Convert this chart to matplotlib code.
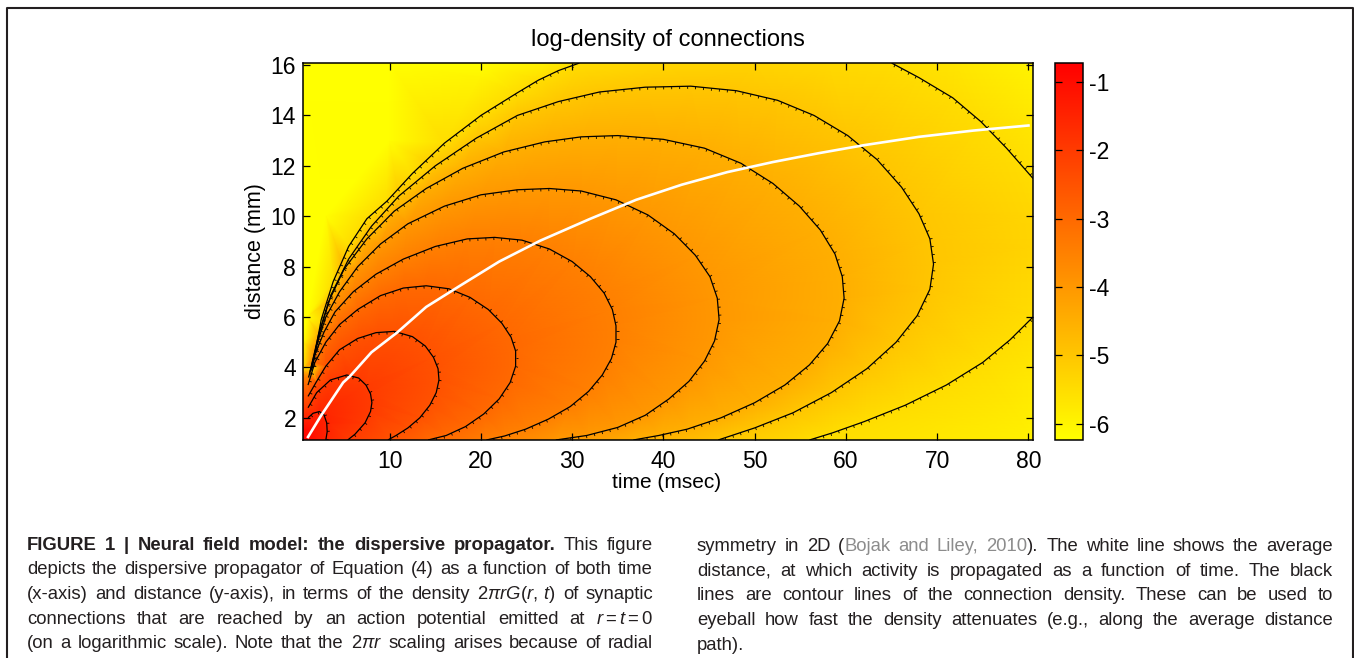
import numpy as np
import matplotlib
matplotlib.use("Agg")
import matplotlib.pyplot as plt
import matplotlib.tri as mtri
from matplotlib.lines import Line2D
from matplotlib.collections import LineCollection

plt.rcParams['axes.unicode_minus'] = False
plt.rcParams['font.family'] = ['Liberation Sans', 'DejaVu Sans']
plt.rcParams['mathtext.fontset'] = 'custom'
plt.rcParams['mathtext.rm'] = 'Liberation Sans'
plt.rcParams['mathtext.it'] = 'Liberation Sans:italic'

W, H, DPI = 1354, 658, 100

# ---------------------------------------------------------------- data
T_MIN, T_MAX = 0.5, 80.5          # time (msec)
R_MIN, R_MAX = 1.12, 16.08        # distance (mm)
V_MIN, V_MAX = -6.24, -0.72       # log-density range

contour_levels = [-1.5, -2.0, -2.5, -3.0, -3.5, -4.0, -4.5, -5.0, -5.5]

c1_t = [1.05, 1.6, 2.3, 2.8, 3.1, 3.15, 3.0]
c1_r = [2.0, 2.18, 2.25, 2.12, 1.8, 1.45, 1.12]

c2_t = [1.05, 2.0, 3.5, 5.3, 6.6, 7.4, 7.9, 8.05, 7.9, 7.3, 6.2, 5.4]
c2_r = [2.4, 3.0, 3.5, 3.7, 3.58, 3.3, 2.95, 2.6, 2.25, 1.8, 1.35, 1.12]

c3_t = [1.05, 2.0, 3.0, 4.5, 6.5, 8.5, 10.5, 12.5, 13.9, 14.8, 15.3, 15.4, 15.1, 14.4, 13.3, 12.0, 10.7, 9.8]
c3_r = [2.85, 3.45, 4.05, 4.7, 5.15, 5.38, 5.43, 5.22, 4.85, 4.4, 3.95, 3.5, 3.0, 2.5, 2.0, 1.6, 1.3, 1.12]

c4_t = [1.05, 1.8, 3.0, 4.5, 6.5, 9.0, 11.5, 14.0, 16.5, 18.8, 20.8, 22.3, 23.3, 23.8, 23.8, 23.2, 22.0, 20.3, 18.3, 16.2, 14.2]
c4_r = [3.3, 4.2, 5.0, 5.7, 6.3, 6.85, 7.15, 7.24, 7.12, 6.78, 6.3, 5.75, 5.2, 4.65, 4.05, 3.4, 2.75, 2.15, 1.65, 1.3, 1.12]

c5_t = [1.1, 1.8, 2.8, 4.0, 6.0, 8.5, 11.5, 15.0, 18.5, 21.5, 24.5, 27.5, 30.0, 32.0, 33.5, 34.4, 34.8, 34.8, 34.3, 33.3, 31.8, 29.8, 27.4, 24.9, 22.6, 20.6]
c5_r = [3.6, 4.5, 5.4, 6.2, 7.0, 7.7, 8.3, 8.8, 9.1, 9.16, 9.05, 8.7, 8.2, 7.6, 6.95, 6.3, 5.65, 5.0, 4.35, 3.7, 3.05, 2.45, 1.95, 1.55, 1.28, 1.12]

c6_t = [1.2, 2.0, 3.0, 4.5, 6.5, 9.0, 12.0, 16.0, 20.0, 24.0, 27.5, 31.0, 34.8, 38.3, 41.2, 43.5, 45.1, 45.9, 46.1, 45.6, 44.5, 42.8, 40.6, 38.0, 35.0, 31.6, 28.2]
c6_r = [3.75, 4.9, 6.0, 7.0, 8.0, 8.9, 9.7, 10.4, 10.85, 11.05, 11.1, 11.0, 10.65, 10.05, 9.3, 8.45, 7.6, 6.75, 5.9, 5.05, 4.25, 3.45, 2.75, 2.1, 1.62, 1.3, 1.12]

c7_t = [1.3, 2.2, 3.3, 5.0, 7.5, 10.5, 14.0, 18.0, 22.5, 27.0, 31.0, 35.0, 40.0, 44.5, 48.5, 52.0, 54.9, 57.2, 58.8, 59.6, 59.8, 59.3, 58.0, 56.0, 53.3, 50.0, 46.3, 42.6, 39.5, 36.7]
c7_r = [3.85, 5.3, 6.6, 7.9, 9.1, 10.2, 11.1, 11.9, 12.55, 12.95, 13.15, 13.2, 13.05, 12.7, 12.1, 11.3, 10.4, 9.45, 8.5, 7.6, 6.75, 5.85, 4.95, 4.1, 3.3, 2.6, 2.0, 1.55, 1.3, 1.12]

c8_t = [1.4, 2.4, 3.6, 5.5, 8.0, 11.0, 15.0, 19.5, 24.0, 28.5, 33.0, 38.0, 43.0, 48.0, 52.5, 56.5, 60.2, 63.4, 66.1, 68.0, 69.2, 69.6, 69.2, 67.8, 65.5, 62.3, 58.4, 54.2, 50.0, 46.0]
c8_r = [3.9, 5.5, 6.9, 8.3, 9.6, 10.8, 12.0, 13.1, 14.0, 14.55, 14.93, 15.12, 15.16, 14.98, 14.6, 14.0, 13.2, 12.25, 11.15, 10.1, 9.1, 8.1, 7.1, 6.05, 5.0, 3.95, 3.0, 2.2, 1.6, 1.12]

c9a_t = [1.5, 2.5, 3.8, 5.5, 7.5, 9.7, 12.5, 16.0, 20.0, 24.0, 26.3, 28.5, 30.8]
c9a_r = [3.95, 5.9, 7.4, 8.8, 9.9, 10.6, 11.7, 12.9, 14.0, 14.9, 15.4, 15.78, 16.08]
c9b_t = [65.0, 68.0, 71.7, 74.8, 77.6, 80.5]
c9b_r = [16.08, 15.5, 14.7, 13.75, 12.7, 11.5]
c9c_t = [80.5, 78.0, 75.0, 71.0, 66.5, 62.0, 58.5, 56.0]
c9c_r = [6.0, 5.1, 4.2, 3.3, 2.5, 1.85, 1.4, 1.12]

# field values along the borders and in the corner
edge_t = [0.5, 0.5, 0.5, 1.5, 2.0,
          0.5, 0.5, 0.5, 0.5, 0.5, 0.5, 0.5, 0.5, 0.5, 0.5,
          1.0, 3.0, 10.0, 20.0,
          10.0, 20.0, 27.0, 40.0, 50.0, 58.0, 72.0,
          80.5, 80.5, 80.5, 80.5, 80.5, 80.5]
edge_r = [1.12, 1.55, 2.0, 1.6, 1.12,
          2.4, 2.85, 3.3, 3.6, 3.75, 3.85, 3.9, 3.95, 5.0, 16.08,
          6.0, 10.0, 13.0, 15.5,
          16.08, 16.08, 16.08, 16.08, 16.08, 16.08, 16.08,
          16.08, 14.0, 8.8, 3.5, 1.12, 10.0]
edge_v = [-0.72, -1.0, -1.5, -1.1, -1.2,
          -2.0, -2.5, -3.0, -3.5, -4.0, -4.5, -5.0, -5.5, -6.24, -6.24,
          -6.24, -6.24, -6.2, -6.0,
          -6.24, -6.24, -5.9, -5.35, -5.3, -5.4, -5.7,
          -6.0, -5.75, -5.3, -5.75, -5.95, -5.35]

# average propagation distance
mean_t = [1.05, 2.5, 4.9, 5.65, 8.0, 10.8, 14.0, 17.7, 22.0, 26.5, 32.0, 37.0, 42.0, 47.0, 52.0, 57.0, 62.0, 68.0, 74.0, 80.0]
mean_r = [1.24, 2.1, 3.4, 3.65, 4.6, 5.38, 6.4, 7.24, 8.2, 9.03, 9.9, 10.65, 11.25, 11.75, 12.15, 12.5, 12.82, 13.15, 13.4, 13.6]

x_ticks = [10, 20, 30, 40, 50, 60, 70, 80]
y_ticks = [2, 4, 6, 8, 10, 12, 14, 16]
cbar_ticks = [-1, -2, -3, -4, -5, -6]

title = 'log-density of connections'
x_label = 'time (msec)'
y_label = 'distance (mm)'

# ---------------------------------------------------------------- figure
fig = plt.figure(figsize=(W / DPI, H / DPI), dpi=DPI)
fig.patch.set_facecolor('white')


def box(left, top, right, bottom):
    return [left / W, 1 - bottom / H, (right - left) / W, (bottom - top) / H]


ax = fig.add_axes(box(303, 63, 1033, 440))
cax = fig.add_axes(box(1055, 63, 1083, 440))
ax.set_xlim(T_MIN, T_MAX)
ax.set_ylim(R_MIN, R_MAX)

lines = [
    (contour_levels[0], c1_t, c1_r), (contour_levels[1], c2_t, c2_r),
    (contour_levels[2], c3_t, c3_r), (contour_levels[3], c4_t, c4_r),
    (contour_levels[4], c5_t, c5_r), (contour_levels[5], c6_t, c6_r),
    (contour_levels[6], c7_t, c7_r), (contour_levels[7], c8_t, c8_r),
    (contour_levels[8], c9a_t, c9a_r), (contour_levels[8], c9b_t, c9b_r),
    (contour_levels[8], c9c_t, c9c_r),
]

pts_t, pts_r, pts_v = [], [], []
for lev, tt, rr in lines:
    pts_t += list(tt)
    pts_r += list(rr)
    pts_v += [lev] * len(tt)
pts_t += edge_t
pts_r += edge_r
pts_v += edge_v
pts_t = np.array(pts_t)
pts_r = np.array(pts_r)
pts_v = np.array(pts_v)

# triangulate in screen-like proportions, then draw in data units
aspect = (377 / (R_MAX - R_MIN)) / (730 / (T_MAX - T_MIN))
tri0 = mtri.Triangulation(pts_t, pts_r * aspect)
tri = mtri.Triangulation(pts_t, pts_r, tri0.triangles)

field = ax.tripcolor(tri, pts_v, cmap='autumn_r', shading='gouraud',
                     vmin=V_MIN, vmax=V_MAX, rasterized=True)

# contour lines with small hatch ticks on their lower-right side
tick_segs = []
for lev, tt, rr in lines:
    ax.plot(tt, rr, color='black', lw=0.9, solid_capstyle='butt',
            solid_joinstyle='round')
    p = ax.transData.transform(np.column_stack([tt, rr]))
    seg_len = np.hypot(*np.diff(p, axis=0).T)
    s = np.concatenate([[0], np.cumsum(seg_len)])
    for d in np.arange(4.0, s[-1], 8.0):
        i = min(np.searchsorted(s, d) - 1, len(seg_len) - 1)
        i = max(i, 0)
        f = (d - s[i]) / seg_len[i]
        q = p[i] + f * (p[i + 1] - p[i])
        tang = (p[i + 1] - p[i]) / seg_len[i]
        nrm = np.array([-tang[1], tang[0]])
        if nrm[0] - nrm[1] < 0:
            nrm = -nrm
        a = ax.transData.inverted().transform([q, q + 2.6 * nrm])
        tick_segs.append(a)
ax.add_collection(LineCollection(tick_segs, colors='black', linewidths=0.6))

ax.plot(mean_t, mean_r, color='white', lw=1.9, solid_joinstyle='round')

ax.set_xticks(x_ticks)
ax.set_yticks(y_ticks)
ax.tick_params(direction='in', top=True, right=True, length=5, width=0.9,
               labelsize=16.5, pad=5)
ax.tick_params(axis='x', pad=7)
for sp in ax.spines.values():
    sp.set_linewidth(1.1)

cb = fig.colorbar(field, cax=cax)
cb.set_ticks(cbar_ticks)
cb.outline.set_linewidth(1.1)
cax.tick_params(direction='in', left=True, right=True, length=5, width=0.9,
                labelsize=16.5, pad=4)

fig.text(668 / W, 1 - 40 / H, title, ha='center', va='center', fontsize=17)
fig.text(667 / W, 1 - 483 / H, x_label, ha='center', va='center', fontsize=15)
fig.text(256 / W, 1 - 251 / H, y_label, ha='center', va='center',
         fontsize=15.5, rotation=90)

# page frame
frame_col = '#231f20'
fig.add_artist(Line2D([7 / W, 7 / W, 1352.5 / W, 1352.5 / W],
                      [0, 1 - 8 / H, 1 - 8 / H, 0],
                      transform=fig.transFigure, color=frame_col, lw=1.5))

# ---------------------------------------------------------------- caption
TXT = '#231f20'
GREY = '#8c8c8c'
CAP_FAMILY = ['Liberation Sans', 'DejaVu Sans']
CAP_SIZE = 13.3
styles = {
    'r': dict(color=TXT, fontweight='normal'),
    'b': dict(color=TXT, fontweight='bold'),
    'g': dict(color=GREY, fontweight='normal'),
}

renderer = fig.canvas.get_renderer()


def text_width(txt):
    a = fig.text(0, 0, txt, fontsize=CAP_SIZE, family=CAP_FAMILY)
    w = a.get_window_extent(renderer).width
    a.remove()
    return w


SPACE = text_width('a a') - text_width('aa')


def caption_line(words, x0, x1, base, justify=True):
    """words: list of words, each a list of (text, style) pieces."""
    arts = []
    widths = []
    for word in words:
        pieces = []
        w = 0.0
        for txt, st in word:
            a = fig.text(0, 0, txt, fontsize=CAP_SIZE, family=CAP_FAMILY,
                         va='baseline', ha='left', **styles[st])
            ext = a.get_window_extent(renderer)
            pieces.append((a, ext.width))
            w += ext.width
        arts.append(pieces)
        widths.append(w)
    if justify and len(words) > 1:
        gap = (x1 - x0 - sum(widths)) / (len(words) - 1)
    else:
        gap = SPACE
    x = x0
    for pieces, w in zip(arts, widths):
        xx = x
        for a, pw in pieces:
            a.set_position((xx / W, 1 - base / H))
            xx += pw
        x += w + gap


def words_of(text, st='r'):
    return [[(w, st)] for w in text.split(' ')]


left_lines = [
    words_of('FIGURE 1 | Neural field model: the dispersive propagator.', 'b') + words_of('This figure'),
    words_of('depicts the dispersive propagator of Equation (4) as a function of both time'),
    words_of('(x-axis) and distance (y-axis), in terms of the density')
    + [[(r'$2\pi rG(r,\,t)$', 'r')]] + words_of('of synaptic'),
    words_of('connections that are reached by an action potential emitted at')
    + [[(r'$r = t = 0$', 'r')]],
    words_of('(on a logarithmic scale). Note that the') + [[(r'$2\pi r$', 'r')]]
    + words_of('scaling arises because of radial'),
]
right_lines = [
    words_of('symmetry in 2D') + [[('(', 'r'), ('Bojak', 'g')]] + words_of('and Liley,', 'g')
    + [[('2010', 'g'), (').', 'r')]] + words_of('The white line shows the average'),
    words_of('distance, at which activity is propagated as a function of time. The black'),
    words_of('lines are contour lines of the connection density. These can be used to'),
    words_of('eyeball how fast the density attenuates (e.g., along the average distance'),
    words_of('path).'),
]

left_base = [549.5, 574.2, 599.0, 623.7, 648.4]
right_base = [551.0, 575.5, 600.2, 625.0, 649.5]
for i, ln in enumerate(left_lines):
    caption_line(ln, 27, 653, left_base[i], justify=True)
for i, ln in enumerate(right_lines):
    caption_line(ln, 697, 1333, right_base[i], justify=(i < 4))

fig.savefig('out.png', dpi=DPI, facecolor='white')
